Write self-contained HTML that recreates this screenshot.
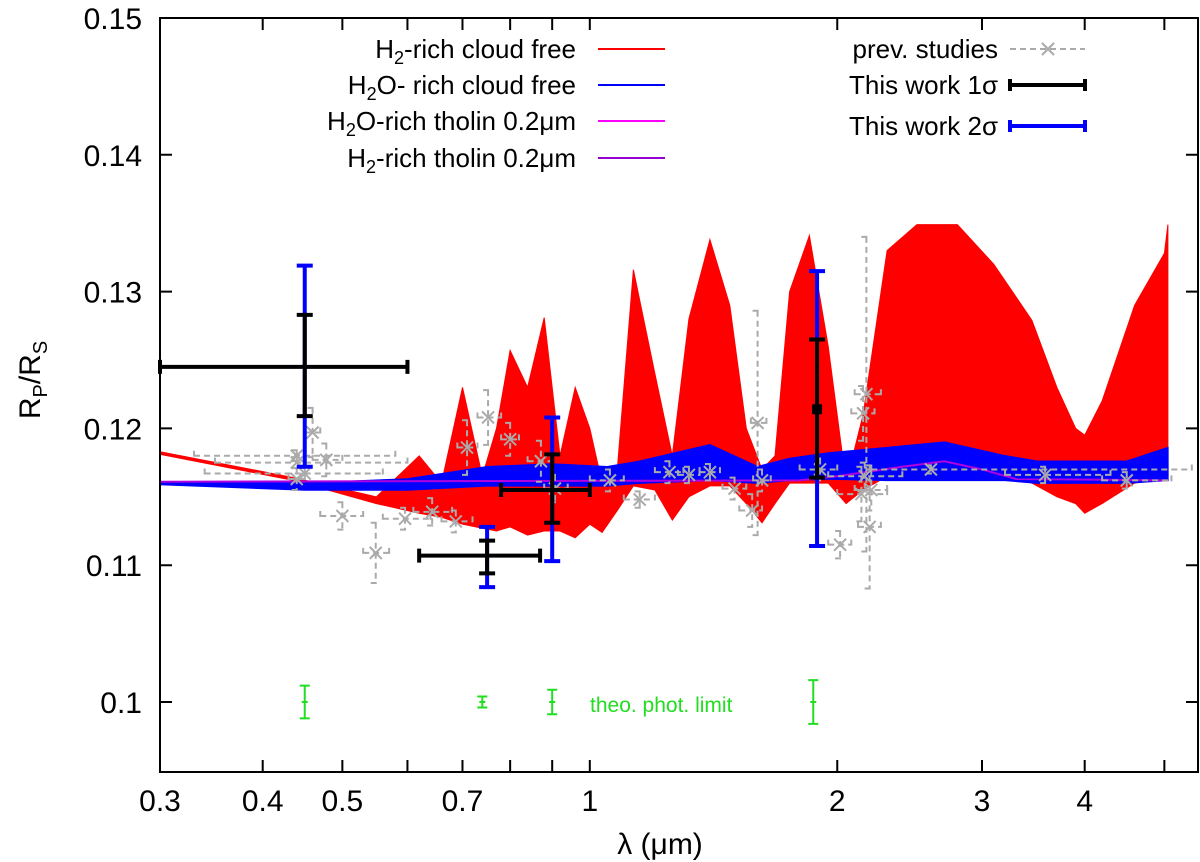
<!DOCTYPE html>
<html><head><meta charset="utf-8"><style>
body{margin:0;background:#fff}
svg{display:block;font-family:"Liberation Sans",sans-serif}
</style></head><body>
<svg id="chart" width="1200" height="862" viewBox="0 0 1200 862">
<g id="bands"></g>
<g id="prev"></g>
<g id="work"></g>
<g id="green"></g>
<text x="590" y="712" font-size="21" fill="#22dd22">theo. phot. limit</text>
<rect x="160" y="18" width="1038" height="754" fill="none" stroke="#000" stroke-width="2"/>
<g id="axes"></g>
<text x="660" y="854" font-size="30" text-anchor="middle">λ (μm)</text>
<text transform="translate(40,380) rotate(-90)" font-size="30" text-anchor="middle">R<tspan font-size="20" dy="7">P</tspan><tspan dy="-7">/R</tspan><tspan font-size="20" dy="7">S</tspan></text>
<g font-size="26" text-anchor="end">
 <text x="576" y="58">H<tspan font-size="18" dy="6">2</tspan><tspan dy="-6">-rich cloud free</tspan></text>
 <line x1="598" y1="49" x2="665" y2="49" stroke="#f00" stroke-width="2"/>
 <text x="576" y="94">H<tspan font-size="18" dy="6">2</tspan><tspan dy="-6">O- rich cloud free</tspan></text>
 <line x1="598" y1="85" x2="665" y2="85" stroke="#00f" stroke-width="2"/>
 <text x="576" y="130">H<tspan font-size="18" dy="6">2</tspan><tspan dy="-6">O-rich tholin 0.2μm</tspan></text>
 <line x1="598" y1="121" x2="665" y2="121" stroke="#f0f" stroke-width="2"/>
 <text x="576" y="167">H<tspan font-size="18" dy="6">2</tspan><tspan dy="-6">-rich tholin 0.2μm</tspan></text>
 <line x1="598" y1="158" x2="665" y2="158" stroke="#9400d3" stroke-width="2"/>
</g>
<g font-size="26" text-anchor="end">
 <text x="998" y="58">prev. studies</text>
 <line x1="1010" y1="49" x2="1085" y2="49" stroke="#aaa" stroke-width="2" stroke-dasharray="6,4"/>
 <path d="M1042,43 l12,12 M1054,43 l-12,12" stroke="#aaa" stroke-width="2"/>
 <text x="998" y="94">This work 1σ</text>
 <path d="M1010,85 H1085 M1010,79 v12 M1085,79 v12" stroke="#000" stroke-width="4"/>
 <text x="998" y="135">This work 2σ</text>
 <path d="M1010,126 H1085 M1010,120 v12 M1085,120 v12" stroke="#00f" stroke-width="4"/>
</g>
</svg>
<script>
const redWl=[0.30,0.436,0.55,0.62,0.66,0.70,0.74,0.77,0.80,0.84,0.88,0.92,0.96,1.0,1.035,1.08,1.13,1.20,1.26,1.32,1.40,1.48,1.55,1.62,1.68,1.75,1.85,1.95,2.05,2.15,2.3,2.5,2.8,3.1,3.45,3.7,3.9,4.0,4.2,4.6,5.0,5.05];
const redHi=[0.1183,0.1164,0.1150,0.1180,0.1160,0.1230,0.1165,0.1200,0.1257,0.1230,0.1281,0.1180,0.1230,0.1200,0.1160,0.1170,0.1316,0.1240,0.1180,0.1280,0.1338,0.1290,0.1200,0.1170,0.1180,0.1300,0.1341,0.1260,0.1160,0.1210,0.1330,0.1349,0.1349,0.1320,0.1279,0.1230,0.1200,0.1195,0.1220,0.1290,0.1328,0.1349];
const redLo=[0.1181,0.1162,0.1145,0.1138,0.1135,0.1130,0.1127,0.1125,0.1128,0.1122,0.1125,0.1125,0.1120,0.1130,0.1124,0.1140,0.1158,0.1155,0.1133,0.1150,0.1158,0.1158,0.1145,0.1131,0.1145,0.1160,0.1160,0.1160,0.1145,0.1155,0.1165,0.1168,0.1168,0.1168,0.1160,0.1150,0.1145,0.1138,0.1145,0.1160,0.1165,0.1165];
const blueWl=[0.3,0.45,0.6,0.75,0.9,1.05,1.15,1.4,1.6,1.75,1.95,2.3,2.7,3.2,3.5,4.5,5.05];
const blueHi=[0.1161,0.1160,0.1163,0.1172,0.1174,0.1172,0.1176,0.1188,0.1172,0.1178,0.1182,0.1186,0.1190,0.1180,0.1176,0.1176,0.1186];
const blueLo=[0.1159,0.1155,0.1155,0.1158,0.1158,0.1158,0.1160,0.1162,0.1160,0.1162,0.1163,0.1162,0.1162,0.1162,0.1160,0.1160,0.1162];
const purpWl=[0.3,1.8,2.0,2.4,2.7,3.0,3.3,5.05];
const purpV=[0.1161,0.1162,0.1165,0.1172,0.1176,0.1170,0.1163,0.1162];
const prevWl=[0.44,0.46,0.44,0.44,0.45,0.478,0.50,0.549,0.596,0.643,0.687,0.709,0.752,0.80,0.872,0.907,1.058,1.15,1.25,1.32,1.40,1.50,1.576,1.60,1.62,1.906,2.016,2.14,2.15,2.17,2.19,2.2,2.16,3.58,4.5,2.6];
const prevV=[0.1163,0.1197,0.1180,0.1175,0.1167,0.1177,0.1136,0.1109,0.1134,0.1139,0.1132,0.1186,0.1208,0.1192,0.1176,0.1156,0.1162,0.1148,0.1168,0.1166,0.1168,0.1156,0.1140,0.1204,0.1162,0.1170,0.1115,0.1152,0.1211,0.1225,0.1128,0.1155,0.1165,0.1166,0.1162,0.1170];
const prevDy=[0.0008,0.0018,0.0004,0.0004,0.0004,0.0012,0.0010,0.0022,0.0008,0.0010,0.0008,0.0020,0.0020,0.0012,0.0015,0.0010,0.0008,0.0006,0.0008,0.0006,0.0006,0.0008,0.0012,0.0082,0.0008,0.0008,0.0010,0.0020,0.0020,0.0115,0.0045,0.0015,0.0010,0.0006,0.0006,0.0003];
const prevXlo=[0.43,0.45,0.33,0.35,0.34,0.46,0.47,0.53,0.56,0.61,0.66,0.69,0.73,0.78,0.84,0.88,1.0,1.1,1.2,1.28,1.36,1.45,1.52,1.57,1.58,1.8,1.95,2.0,2.08,2.1,2.12,2.1,1.95,3.2,4.2,2.2];
const prevXhi=[0.45,0.47,0.58,0.60,0.56,0.50,0.53,0.57,0.64,0.68,0.72,0.73,0.78,0.82,0.90,0.94,1.1,1.2,1.3,1.36,1.44,1.55,1.62,1.64,1.66,2.0,2.08,2.3,2.22,2.26,2.26,2.3,2.4,4.3,5.1,5.4];
const wkWl=[0.45,0.75,0.9,1.89];
const wkV=[0.1245,0.1107,0.1155,0.1214];
const wkXlo=[0.3,0.62,0.78,null];
const wkXhi=[0.6,0.87,1.0,null];
const wk1lo=[0.1209,0.1094,0.1131,0.1164];
const wk1hi=[0.1283,0.1118,0.1181,0.1265];
const wk2lo=[0.1172,0.1084,0.1103,0.1114];
const wk2hi=[0.1319,0.1128,0.1208,0.1315];
const grWl=[0.45,0.74,0.9,1.87];
const grV=[0.1,0.1,0.1,0.1];
const grDy=[0.0012,0.0004,0.0009,0.0016];
const yTicks=[0.1,0.11,0.12,0.13,0.14,0.15];
const yTickLabels=["0.1","0.11","0.12","0.13","0.14","0.15"];
const xTicks=[0.3,0.4,0.5,0.6,0.7,0.8,0.9,1,2,3,4,5];
const xTickLabels=["0.3","0.4","0.5","","0.7","","","1","2","3","4",""];

const X=l=>160+822*Math.log10(l/0.3);
const Y=v=>702-(v-0.1)*13680;
const NS="http://www.w3.org/2000/svg";
function mk(tag,attrs,parent){const e=document.createElementNS(NS,tag);for(const k in attrs)e.setAttribute(k,attrs[k]);parent.appendChild(e);return e;}
function band(wl,hi,lo){let d="M"+wl.map((w,i)=>X(w).toFixed(1)+","+Y(hi[i]).toFixed(1)).join(" L");
 for(let i=wl.length-1;i>=0;i--)d+=" L"+X(wl[i]).toFixed(1)+","+Y(lo[i]).toFixed(1);return d+"Z";}
const bands=document.getElementById('bands');
let p=mk('path',{d:band(redWl,redHi,redLo),fill:'#f00',stroke:'#f00','stroke-width':1},bands);


p=mk('path',{d:band(blueWl,blueHi,blueLo),fill:'#00f',stroke:'#00f','stroke-width':1.5},bands);


p=mk('polyline',{points:purpWl.map((w,i)=>X(w)+","+Y(purpV[i])).join(" "),fill:'none',stroke:'#b000e0','stroke-width':2},bands);



const prev=document.getElementById('prev');
prevWl.forEach((w,i)=>{
 const g=mk('g',{stroke:'#aaa','stroke-width':2,fill:'none'},prev);
 
 
 const x=X(w),y=Y(prevV[i]),y1=Y(prevV[i]+prevDy[i]),y2=Y(prevV[i]-prevDy[i]),x1=X(prevXlo[i]),x2=X(prevXhi[i]);
 mk('path',{d:`M${x},${y1}V${y2} M${x1},${y}H${x2} M${x-5},${y1}h10 M${x-5},${y2}h10 M${x1},${y-5}v10 M${x2},${y-5}v10`,'stroke-dasharray':'6,4'},g);
 mk('path',{d:`M${x-6},${y-6}l12,12 M${x+6},${y-6}l-12,12`},g);
});
const work=document.getElementById('work');
wkWl.forEach((w,i)=>{
 const g=mk('g',{'stroke-width':4,fill:'none'},work);
 
 
 const x=X(w),y=Y(wkV[i]);
 mk('path',{d:`M${x},${Y(wk2hi[i])}V${Y(wk2lo[i])} M${x-8},${Y(wk2hi[i])}h16 M${x-8},${Y(wk2lo[i])}h16`,stroke:'#00f'},g);
 let d=`M${x},${Y(wk1hi[i])}V${Y(wk1lo[i])} M${x-8},${Y(wk1hi[i])}h16 M${x-8},${Y(wk1lo[i])}h16`;
 if(wkXlo[i]!==null){const a=X(wkXlo[i]),b=X(wkXhi[i]);d+=` M${a},${y}H${b} M${a},${y-7}v14 M${b},${y-7}v14`;}
 mk('path',{d:d,stroke:'#000'},g);
 if(wkXlo[i]===null) mk('rect',{x:x-5,y:y-5,width:10,height:10,fill:'#000',stroke:'none'},g);
});
const green=document.getElementById('green');
grWl.forEach((w,i)=>{
 const x=X(w),y=Y(grV[i]),a=Y(grV[i]+grDy[i]),b=Y(grV[i]-grDy[i]);
 const e=mk('path',{d:`M${x},${a}V${b} M${x-5},${a}h10 M${x-5},${b}h10 M${x-3},${y}h6`,stroke:'#22dd22','stroke-width':2,fill:'none'},green);
 
 
});
const axes=document.getElementById('axes');
yTicks.forEach((v,i)=>{
 const y=Y(v);
 mk('path',{d:`M160,${y}h12 M1198,${y}h-12`,stroke:'#000','stroke-width':2},axes);
 const t=mk('text',{x:142,y:y+11,'font-size':30,'text-anchor':'end'},axes);t.textContent=yTickLabels[i];
 
 
});
xTicks.forEach((w,i)=>{
 const x=X(w);
 mk('path',{d:`M${x},772v-12 M${x},18v12`,stroke:'#000','stroke-width':2},axes);
 if(xTickLabels[i]){const t=mk('text',{x:x,y:811,'font-size':30,'text-anchor':'middle'},axes);t.textContent=xTickLabels[i];
 
 }
});
</script>
</body></html>
